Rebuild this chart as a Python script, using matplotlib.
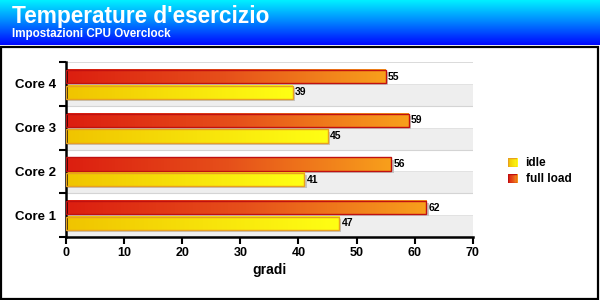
import matplotlib.pyplot as plt
import numpy as np
from matplotlib.patches import Rectangle
from matplotlib.colors import LinearSegmentedColormap

plt.rcParams['font.family'] = ['Liberation Sans', 'DejaVu Sans']
plt.rcParams['font.weight'] = 'bold'

cores = ['Core 1', 'Core 2', 'Core 3', 'Core 4']
idle = [47, 41, 45, 39]
full_load = [62, 56, 59, 55]
x_ticks = [0, 10, 20, 30, 40, 50, 60, 70]

red_cmap = LinearSegmentedColormap.from_list('red', ['#dc1e10', '#e6501a', '#f8a01c'])
yel_cmap = LinearSegmentedColormap.from_list('yel', ['#f0c400', '#f7e20a', '#ffff14'])
grad = np.linspace(0, 1, 256).reshape(1, -1)

fig = plt.figure(figsize=[6, 3], dpi=100)
fig.patch.set_facecolor('white')

# header gradient
hdr = fig.add_axes([0, 0.85, 1, 0.15])
hdr.imshow(np.linspace(0, 1, 64).reshape(-1, 1),
           cmap=LinearSegmentedColormap.from_list('hdr', ['#00f0ff', '#0080ff', '#0008ff']),
           aspect='auto', extent=[0, 1, 0, 1])
hdr.set_axis_off()
fig.text(0.02, 0.922, "Temperature d'esercizio", color='white', fontsize=16.3, fontweight='bold', va='baseline')
fig.text(0.02, 0.875, 'Impostazioni CPU Overclock', color='white', fontsize=8.4, fontweight='bold', va='baseline')

# outer frame
fig.patches.append(Rectangle((0.002, 0.005), 0.995, 0.84, transform=fig.transFigure,
                             fill=False, edgecolor='black', lw=1.6))

ax = fig.add_axes([0.11, 0.21, 0.678, 0.583])
ax.set_xlim(0, 70)
ax.set_ylim(-0.5, len(cores) - 0.5)

h = 0.3
for i in range(len(cores)):
    ax.add_patch(Rectangle((0, i - 0.5), 70, 0.5, facecolor='#eeeeee', edgecolor='none', zorder=0))
    ax.axhline(i - 0.5, color='#d4d4d4', lw=0.8, zorder=0.5)
    ax.axhline(i, color='#e0e0e0', lw=0.6, zorder=0.5)
ax.axhline(len(cores) - 0.5, color='#d4d4d4', lw=1.2, zorder=0.5)

bars = [(full_load, 0.17, red_cmap, '#c01010'), (idle, -0.19, yel_cmap, '#e8a020')]
for vals, off, cmap, ec in bars:
    for i, v in enumerate(vals):
        y0 = i + off - h / 2
        # shadow
        ax.add_patch(Rectangle((0.4, y0 - 0.05), v, h, facecolor='#c4c4c4', edgecolor='none', zorder=1))
        ax.imshow(grad, cmap=cmap, aspect='auto', extent=[0, v, y0, y0 + h], zorder=2)
        ax.add_patch(Rectangle((0, y0), v, h, facecolor='none', edgecolor=ec, lw=1.0, zorder=3))
        ax.text(v + 0.4, i + off, str(v), fontsize=7.5, fontweight='bold', va='center', ha='left', zorder=4)

ax.set_xlim(0, 70)
ax.set_ylim(-0.5, len(cores) - 0.5)
ax.set_xticks(x_ticks)
ax.set_xticklabels([str(t) for t in x_ticks], fontsize=9, fontweight='bold')
ax.set_yticks([i - 0.5 for i in range(len(cores) + 1)])
ax.set_yticklabels([])
ax.set_yticks(range(len(cores)), minor=True)
ax.set_yticklabels(cores, minor=True, fontsize=9.5, fontweight='bold')
ax.tick_params(axis='y', which='minor', length=0, pad=7)
ax.tick_params(axis='y', which='major', length=5, width=1.5)
ax.tick_params(axis='x', length=5, width=1.5, pad=2)
ax.set_xlabel('gradi', fontsize=10, fontweight='bold', labelpad=3)
for s in ['top', 'right']:
    ax.spines[s].set_visible(False)
for s in ['left', 'bottom']:
    ax.spines[s].set_linewidth(1.8)

# legend
for k, (label, cmap, ec) in enumerate([('idle', yel_cmap, '#e8a020'), ('full load', red_cmap, '#c01010')]):
    y = 0.443 - k * 0.053
    lax = fig.add_axes([0.846, y, 0.016, 0.03])
    lax.imshow(grad, cmap=cmap, aspect='auto', extent=[0, 1, 0, 1])
    lax.add_patch(Rectangle((0, 0), 1, 1, facecolor='none', edgecolor=ec, lw=1))
    lax.set_axis_off()
    fig.text(0.876, y + 0.015, label, fontsize=8.5, fontweight='bold', va='center')

fig.savefig('out.png', dpi=100)
